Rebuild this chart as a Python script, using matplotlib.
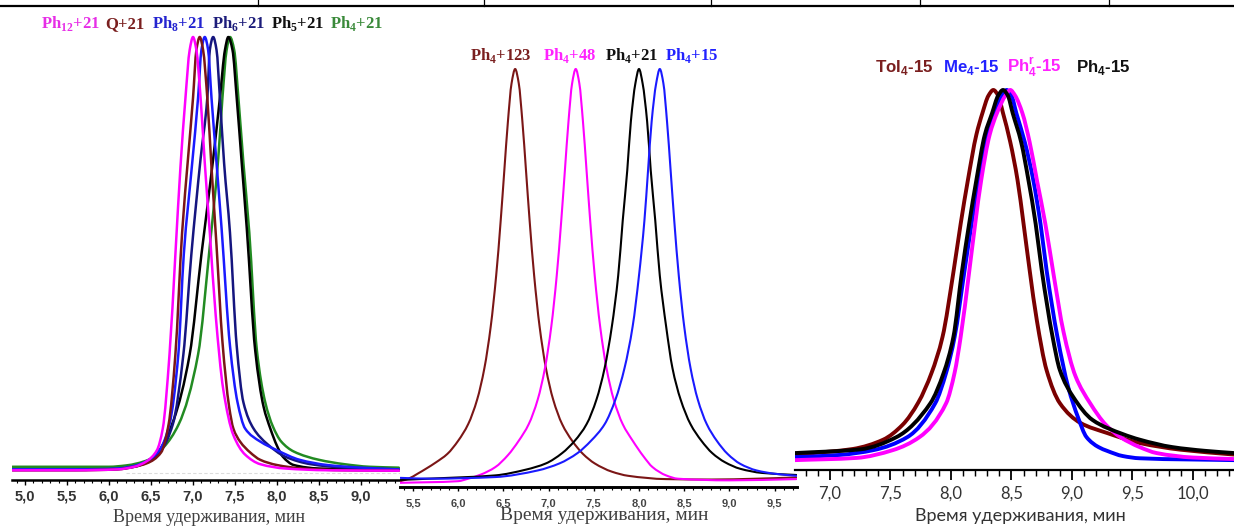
import matplotlib
matplotlib.use("Agg")
import numpy as np
import matplotlib.pyplot as plt
from matplotlib.ticker import MultipleLocator, FuncFormatter
from matplotlib.lines import Line2D
from matplotlib.path import Path
from matplotlib.patches import PathPatch

W, H = 1234, 527

# ---- panel 1: Ph_n+21 / Q+21 series (retention time, min; normalised signal) ----
P1_MAG_X = [4.85, 5.6, 6.1, 6.3, 6.45, 6.57, 6.64, 6.72, 6.79, 6.85, 6.91, 6.96, 7.00,
            7.04, 7.09, 7.14, 7.20, 7.27, 7.36, 7.48, 7.62, 7.80, 8.10, 8.60, 9.45]
P1_MAG_Y = [0.004, 0.004, 0.006, 0.012, 0.025, 0.05, 0.10, 0.27, 0.50, 0.70, 0.86, 0.97, 1.00,
            0.97, 0.86, 0.71, 0.55, 0.36, 0.19, 0.085, 0.04, 0.018, 0.008, 0.004, 0.003]
P1_BRN_X = [4.85, 5.6, 6.1, 6.3, 6.45, 6.62, 6.71, 6.79, 6.87, 6.94, 7.00, 7.04, 7.08, 7.12,
            7.17, 7.22, 7.28, 7.35, 7.43, 7.48, 7.56, 7.68, 7.80, 8.00, 8.30, 8.80, 9.45]
P1_BRN_Y = [0.004, 0.004, 0.006, 0.012, 0.02, 0.045, 0.11, 0.27, 0.55, 0.72, 0.86, 0.97, 1.00,
            0.97, 0.86, 0.70, 0.52, 0.30, 0.15, 0.10, 0.07, 0.045, 0.028, 0.016, 0.008, 0.004, 0.003]
P1_BLU_X = [4.85, 5.6, 6.1, 6.3, 6.45, 6.60, 6.72, 6.825, 6.89, 6.99, 7.06, 7.10, 7.14, 7.18,
            7.22, 7.28, 7.34, 7.44, 7.53, 7.62, 7.80, 8.00, 8.27, 8.60, 9.00, 9.45]
P1_BLU_Y = [0.006, 0.006, 0.008, 0.014, 0.025, 0.05, 0.11, 0.27, 0.50, 0.71, 0.86, 0.97, 1.00,
            0.97, 0.86, 0.71, 0.56, 0.29, 0.16, 0.10, 0.07, 0.05, 0.028, 0.016, 0.010, 0.006]
P1_NAV_X = [4.85, 5.6, 6.1, 6.3, 6.45, 6.62, 6.76, 6.885, 6.98, 7.09, 7.17, 7.20, 7.24, 7.28,
            7.32, 7.37, 7.44, 7.52, 7.60, 7.72, 7.88, 8.10, 8.40, 8.80, 9.45]
P1_NAV_Y = [0.005, 0.005, 0.007, 0.013, 0.022, 0.05, 0.11, 0.27, 0.50, 0.72, 0.86, 0.97, 1.00,
            0.97, 0.86, 0.71, 0.55, 0.29, 0.16, 0.10, 0.065, 0.035, 0.018, 0.010, 0.006]
P1_BLK_X = [4.85, 5.6, 6.1, 6.3, 6.45, 6.60, 6.77, 6.96, 7.10, 7.24, 7.32, 7.38, 7.42, 7.47,
            7.52, 7.58, 7.64, 7.74, 7.84, 7.92, 8.00, 8.07, 8.20, 8.50, 9.00, 9.45]
P1_BLK_Y = [0.005, 0.005, 0.007, 0.012, 0.022, 0.05, 0.12, 0.27, 0.50, 0.72, 0.86, 0.97, 1.00,
            0.97, 0.86, 0.71, 0.56, 0.28, 0.15, 0.10, 0.06, 0.035, 0.016, 0.008, 0.006, 0.005]
P1_GRN_X = [4.85, 5.6, 6.0, 6.20, 6.47, 6.65, 6.83, 7.06, 7.20, 7.30, 7.35, 7.40, 7.44, 7.49,
            7.54, 7.60, 7.67, 7.76, 7.86, 7.95, 8.05, 8.20, 8.50, 8.80, 9.10, 9.45]
P1_GRN_Y = [0.012, 0.012, 0.012, 0.015, 0.028, 0.057, 0.11, 0.27, 0.52, 0.72, 0.86, 0.97, 1.00,
            0.97, 0.86, 0.71, 0.55, 0.28, 0.16, 0.105, 0.07, 0.047, 0.028, 0.018, 0.012, 0.010]
P1_LABELS = ["Ph$_{\\mathdefault{12}}$+21", "Q+21", "Ph$_{\\mathdefault{8}}$+21",
             "Ph$_{\\mathdefault{6}}$+21", "Ph$_{\\mathdefault{5}}$+21", "Ph$_{\\mathdefault{4}}$+21"]

# ---- panel 2: Ph4+n series ----
P2_BRN_X = [5.36, 5.45, 5.55, 5.65, 5.75, 5.88, 6.00, 6.11, 6.21, 6.29, 6.36, 6.42, 6.47, 6.51,
            6.55, 6.59, 6.63, 6.67, 6.71, 6.75, 6.79, 6.84, 6.90, 6.97, 7.05, 7.15, 7.26, 7.38,
            7.51, 7.70, 7.88, 8.30, 8.80, 9.30, 9.74]
P2_BRN_Y = [0.002, 0.008, 0.02, 0.033, 0.047, 0.068, 0.10, 0.14, 0.20, 0.276, 0.377, 0.50, 0.633,
            0.754, 0.873, 0.965, 1.00, 0.965, 0.873, 0.754, 0.633, 0.50, 0.377, 0.276, 0.20, 0.14,
            0.10, 0.068, 0.045, 0.025, 0.015, 0.007, 0.006, 0.008, 0.011]
P2_MAG_X = [5.36, 6.00, 6.11, 6.25, 6.41, 6.55, 6.67, 6.78, 6.88, 6.96, 7.03, 7.09, 7.14, 7.18,
            7.22, 7.26, 7.30, 7.34, 7.38, 7.42, 7.46, 7.51, 7.57, 7.64, 7.72, 7.82, 7.93, 8.05,
            8.15, 8.30, 8.43, 9.00, 9.74]
P2_MAG_Y = [-0.002, 0.002, 0.008, 0.018, 0.036, 0.065, 0.10, 0.14, 0.20, 0.276, 0.377, 0.50, 0.633,
            0.754, 0.873, 0.965, 1.00, 0.965, 0.873, 0.754, 0.633, 0.50, 0.377, 0.276, 0.20, 0.14,
            0.10, 0.062, 0.036, 0.016, 0.008, 0.004, 0.007]
P2_BLK_X = [5.36, 5.67, 6.41, 6.75, 6.97, 7.15, 7.29, 7.42, 7.53, 7.62, 7.70, 7.77, 7.82, 7.87,
            7.91, 7.96, 8.00, 8.04, 8.09, 8.13, 8.18, 8.23, 8.30, 8.37, 8.46, 8.57, 8.69, 8.81,
            8.95, 9.12, 9.36, 9.74]
P2_BLK_Y = [0.005, 0.008, 0.016, 0.03, 0.045, 0.07, 0.10, 0.14, 0.20, 0.276, 0.377, 0.50, 0.633,
            0.754, 0.873, 0.965, 1.00, 0.965, 0.873, 0.754, 0.633, 0.50, 0.377, 0.276, 0.20, 0.14,
            0.10, 0.07, 0.048, 0.032, 0.022, 0.017]
P2_BLU_X = [5.36, 5.70, 6.41, 6.88, 7.12, 7.32, 7.47, 7.62, 7.74, 7.84, 7.93, 8.00, 8.06, 8.10,
            8.14, 8.19, 8.23, 8.27, 8.31, 8.35, 8.39, 8.44, 8.50, 8.57, 8.65, 8.75, 8.86, 8.98,
            9.12, 9.30, 9.50, 9.74]
P2_BLU_Y = [0.010, 0.008, 0.012, 0.028, 0.045, 0.07, 0.10, 0.14, 0.20, 0.276, 0.377, 0.50, 0.633,
            0.754, 0.873, 0.965, 1.00, 0.965, 0.873, 0.754, 0.633, 0.50, 0.377, 0.276, 0.20, 0.14,
            0.10, 0.068, 0.044, 0.028, 0.02, 0.015]
P2_LABELS = ["Ph$_{\\mathdefault{4}}$+123", "Ph$_{\\mathdefault{4}}$+48",
             "Ph$_{\\mathdefault{4}}$+21", "Ph$_{\\mathdefault{4}}$+15"]

# ---- panel 3: X4-15 series ----
P3_BRN_X = [6.71, 7.00, 7.19, 7.44, 7.60, 7.73, 7.84, 7.93, 8.02, 8.08, 8.14, 8.21, 8.26, 8.31,
            8.35, 8.39, 8.43, 8.49, 8.55, 8.60, 8.65, 8.71, 8.79, 8.90, 9.07, 9.29, 9.56, 9.90,
            10.34]
P3_BRN_Y = [0.02, 0.028, 0.035, 0.06, 0.10, 0.16, 0.24, 0.336, 0.51, 0.64, 0.758, 0.88, 0.938,
            0.985, 1.00, 0.985, 0.938, 0.86, 0.758, 0.64, 0.516, 0.38, 0.247, 0.158, 0.105, 0.078,
            0.051, 0.033, 0.02]
P3_BLU_X = [6.71, 7.08, 7.36, 7.64, 7.87, 7.96, 8.03, 8.11, 8.17, 8.23, 8.30, 8.36, 8.42, 8.46,
            8.50, 8.54, 8.61, 8.68, 8.74, 8.79, 8.88, 8.97, 9.05, 9.12, 9.22, 9.29, 9.42, 9.56,
            10.34]
P3_BLU_Y = [0.013, 0.019, 0.032, 0.067, 0.158, 0.24, 0.336, 0.51, 0.64, 0.758, 0.88, 0.938, 0.985,
            1.00, 0.985, 0.938, 0.86, 0.758, 0.64, 0.516, 0.336, 0.20, 0.12, 0.067, 0.04, 0.03,
            0.016, 0.010, 0.005]
P3_MAG_X = [6.71, 7.22, 7.52, 7.74, 7.96, 8.03, 8.08, 8.15, 8.20, 8.25, 8.32, 8.38, 8.45, 8.49,
            8.53, 8.59, 8.65, 8.71, 8.78, 8.85, 8.93, 9.03, 9.15, 9.28, 9.40, 9.56, 9.70, 10.00,
            10.34]
P3_MAG_Y = [0.005, 0.011, 0.032, 0.067, 0.158, 0.24, 0.336, 0.51, 0.64, 0.758, 0.88, 0.938, 0.985,
            1.00, 0.985, 0.938, 0.86, 0.758, 0.64, 0.50, 0.35, 0.23, 0.158, 0.10, 0.067, 0.04,
            0.024, 0.012, 0.008]
P3_BLK_X = [6.71, 7.25, 7.55, 7.83, 7.94, 8.02, 8.09, 8.15, 8.21, 8.28, 8.34, 8.39, 8.43, 8.47,
            8.51, 8.58, 8.64, 8.70, 8.75, 8.84, 8.90, 9.01, 9.17, 9.42, 9.56, 9.83, 10.10, 10.34]
P3_BLK_Y = [0.024, 0.034, 0.067, 0.158, 0.24, 0.336, 0.51, 0.64, 0.758, 0.88, 0.938, 0.985, 1.00,
            0.985, 0.938, 0.86, 0.758, 0.64, 0.516, 0.336, 0.247, 0.175, 0.113, 0.075, 0.06, 0.04,
            0.03, 0.024]
P3_LABELS = ["Tol$_{\\mathdefault{4}}$-15", "Me$_{\\mathdefault{4}}$-15",
             "Ph$^{\\mathdefault{r}}_{\\mathdefault{4}}$-15", "Ph$_{\\mathdefault{4}}$-15"]

XLABEL = "Время удерживания, мин"

MAG, BRN, BLU, NAV, BLK, GRN = "#ff00ff", "#7b1616", "#1a1aff", "#15157f", "#000000", "#228b22"


def comma(v, _):
    return f"{v:.1f}".replace(".", ",")


def trace(ax, x, y, **kw):
    """Draw the read-off points as one smooth (monotone Bezier) trace."""
    x = np.asarray(x, float)
    y = np.asarray(y, float)
    h = np.diff(x)
    d = np.diff(y) / h
    m = np.zeros_like(y)
    m[0], m[-1] = d[0], d[-1]
    for k in range(1, len(x) - 1):
        if d[k - 1] * d[k] > 0:
            w1 = 2 * h[k] + h[k - 1]
            w2 = h[k] + 2 * h[k - 1]
            m[k] = (w1 + w2) / (w1 / d[k - 1] + w2 / d[k])
    verts = [(x[0], y[0])]
    codes = [Path.MOVETO]
    for k in range(len(x) - 1):
        verts += [(x[k] + h[k] / 3, y[k] + m[k] * h[k] / 3),
                  (x[k + 1] - h[k] / 3, y[k + 1] - m[k + 1] * h[k] / 3),
                  (x[k + 1], y[k + 1])]
        codes += [Path.CURVE4] * 3
    ax.add_patch(PathPatch(Path(verts, codes), fill=False, capstyle="round",
                           joinstyle="round", **kw))


def px_axes(fig, x0, top, x1, bottom):
    ax = fig.add_axes([x0 / W, 1 - bottom / H, (x1 - x0) / W, (bottom - top) / H])
    ax.set_facecolor("none")
    return ax


def style(ax, xlim, ylim, spine_lw, font, size, weight, color, major, minor, pad, tick_w):
    ax.set_xlim(*xlim)
    ax.set_ylim(*ylim)
    for s in ("top", "left", "right"):
        ax.spines[s].set_visible(False)
    ax.spines["bottom"].set_linewidth(spine_lw)
    ax.yaxis.set_visible(False)
    ax.xaxis.set_major_locator(MultipleLocator(0.5))
    ax.xaxis.set_minor_locator(MultipleLocator(0.1))
    ax.xaxis.set_major_formatter(FuncFormatter(comma))
    ax.tick_params(axis="x", which="major", direction="out", length=major, width=tick_w,
                   pad=pad, labelsize=size, labelcolor=color)
    ax.tick_params(axis="x", which="minor", direction="out", length=minor, width=tick_w * 0.8)
    for t in ax.get_xticklabels():
        t.set_fontfamily(font)
        t.set_fontweight(weight)


def fx(px):
    return px / W


def fy(py):
    return 1 - py / H


fig = plt.figure(figsize=(W / 100, H / 100), dpi=100)

# page decoration (table border above the figure)
fig.add_artist(Line2D([0, 1], [fy(5.5)] * 2, transform=fig.transFigure, color="k", lw=1.6))
for xv in (258, 484, 711, 920, 1109):
    fig.add_artist(Line2D([fx(xv)] * 2, [fy(0), fy(5.5)], transform=fig.transFigure,
                          color="k", lw=0.9))

# ---- panel 1 ----
ax1 = px_axes(fig, 12, 30, 400, 480)
ax1.hlines(-0.002, 6.2, 9.46, color="#dcdcdc", lw=0.8, ls=(0, (3, 2)))
for x, y, c in [(P1_GRN_X, P1_GRN_Y, GRN), (P1_BLK_X, P1_BLK_Y, BLK),
                (P1_NAV_X, P1_NAV_Y, NAV), (P1_BLU_X, P1_BLU_Y, BLU),
                (P1_BRN_X, P1_BRN_Y, BRN), (P1_MAG_X, P1_MAG_Y, MAG)]:
    trace(ax1, x, y, color=c, lw=1.8)
style(ax1, (4.845, 9.464), (-8 / 435, 1 + 7 / 435), 1.8, "Liberation Sans", 10.5, "bold",
      "#333333", 3.5, 2.0, 3.0, 1.0)
for lab, xl, c in zip(P1_LABELS, [41, 105, 152, 212, 271, 330],
                      ["#e62ee6", "#7a1f1f", "#2424d0", "#1c1c7a", "#111111", "#3a8a3a"]):
    fig.text(fx(xl), fy(28), lab, color=c, family="Liberation Serif", weight="bold",
             fontsize=12, ha="left", va="baseline")
fig.text(fx(209), fy(517), XLABEL, family="Liberation Serif", fontsize=13, color="#404040",
         ha="center", va="center")

# ---- panel 2 ----
ax2 = px_axes(fig, 400, 60, 797, 487)
for x, y, c in [(P2_BRN_X, P2_BRN_Y, BRN), (P2_MAG_X, P2_MAG_Y, MAG),
                (P2_BLK_X, P2_BLK_Y, BLK), (P2_BLU_X, P2_BLU_Y, BLU)]:
    trace(ax2, x, y, color=c, lw=1.5)
style(ax2, (5.356, 9.748), (-5 / 413, 1 + 9 / 413), 2.1, "Liberation Sans", 8, "bold",
      "#444444", 3.0, 2.0, 5.0, 1.0)
for lab, xl, c in zip(P2_LABELS, [470, 543, 605, 665],
                      ["#7a1f1f", "#ff22ff", "#111111", "#2222ff"]):
    fig.text(fx(xl), fy(60), lab, color=c, family="Liberation Serif", weight="bold",
             fontsize=12, ha="left", va="baseline")
fig.text(fx(604), fy(516), XLABEL, family="Liberation Serif", fontsize=14, color="#404040",
         ha="center", va="center")

# ---- panel 3 ----
ax3 = px_axes(fig, 795, 80, 1234, 470)
for x, y, c in [(P3_BRN_X, P3_BRN_Y, "#7a0000"), (P3_BLU_X, P3_BLU_Y, "#0000ff"),
                (P3_MAG_X, P3_MAG_Y, MAG), (P3_BLK_X, P3_BLK_Y, BLK)]:
    trace(ax3, x, y, color=c, lw=2.8)
style(ax3, (6.711, 10.339), (-8 / 372, 1 + 10 / 372), 1.6, "Lato", 12, "normal",
      "#333333", 7.0, 4.0, 4.0, 1.3)
for lab, xl, c in zip(P3_LABELS, [875, 943, 1007, 1076],
                      ["#7a1f1f", "#2222ff", "#ff22ff", "#111111"]):
    fig.text(fx(xl), fy(72), lab, color=c, family="Liberation Sans", weight="bold",
             fontsize=12.2, ha="left", va="baseline")
fig.text(fx(1020), fy(516), XLABEL, family="Lato", fontsize=13, color="#333333",
         ha="center", va="center")

fig.savefig("out.png", dpi=100)
